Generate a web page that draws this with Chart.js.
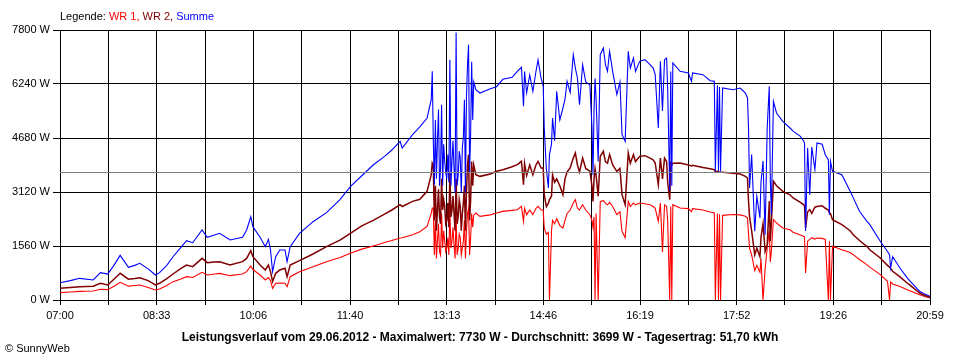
<!DOCTYPE html>
<html>
<head>
<meta charset="utf-8">
<script src="https://cdn.jsdelivr.net/npm/chart.js@4.4.1/dist/chart.umd.min.js"></script>
<style>
  html, body { margin: 0; padding: 0; background: #fff; }
  #wrap { width: 960px; height: 360px; position: relative; }
</style>
</head>
<body>
<div id="wrap"><canvas id="powerChart"></canvas></div>
<script>
// Messzeitpunkte (hh:mm) und Leistung in W
const times = [
  '07:00','07:10','07:19','07:32','07:39','07:46','07:52','07:58','08:06','08:12',
  '08:17','08:25','08:32','08:36','08:43','08:49','08:56','09:02','09:08','09:17',
  '09:22','09:29','09:34','09:44','09:56','10:00','10:04','10:06','10:13','10:18',
  '10:21','10:23','10:25','10:28','10:32','10:37','10:39','10:42','10:51','11:04',
  '11:17','11:30','11:40','11:51','12:02','12:13','12:20','12:28','12:30','12:40',
  '12:47','12:54','12:58','12:59','13:00','13:01','13:02','13:03','13:04','13:05',
  '13:06','13:07','13:08','13:09','13:10','13:11','13:12','13:13','13:14','13:15',
  '13:16','13:17','13:18','13:19','13:20','13:21','13:22','13:23','13:24','13:25',
  '13:26','13:27','13:28','13:29','13:30','13:31','13:32','13:33','13:34','13:35',
  '13:36','13:37','13:38','13:39','13:41','13:45','13:55','14:01','14:07','14:16',
  '14:21','14:25','14:27','14:28','14:30','14:33','14:36','14:39','14:41','14:44',
  '14:46','14:47','14:49','14:51','14:52','14:54','14:55','14:57','14:59','15:02',
  '15:05','15:07','15:09','15:12','15:15','15:17','15:19','15:21','15:24','15:27',
  '15:31','15:33','15:34','15:35','15:36','15:37','15:39','15:41','15:44','15:46',
  '15:48','15:50','15:53','15:57','16:00','16:02','16:05','16:08','16:10','16:13',
  '16:15','16:19','16:24','16:29','16:32','16:34','16:37','16:39','16:41','16:43',
  '16:45','16:46','16:48','16:49','16:50','16:51','16:58','17:06','17:09','17:10',
  '17:20','17:27','17:31','17:32','17:34','17:35','17:36','17:37','17:39','17:49',
  '17:56','18:01','18:03','18:04','18:05','18:07','18:10','18:12','18:15','18:16',
  '18:18','18:20','18:22','18:24','18:25','18:26','18:28','18:31','18:37','18:44',
  '18:47','18:54','18:57','18:58','18:59','19:01','19:03','19:05','19:08','19:10',
  '19:15','19:18','19:21','19:22','19:23','19:25','19:34','19:42','19:45','19:51',
  '19:58','20:01','20:11','20:18','20:20','20:21','20:23','20:30','20:37','20:40',
  '20:49','20:54','20:59'
];

const summe = [
  500,560,626,578,790,750,1000,1290,945,1000,
  1060,900,722,790,1000,1250,1500,1713,1655,2022,
  1811,1880,1926,1733,1811,2022,2407,2118,1811,1540,
  1753,1444,818,1250,1444,1444,1107,1540,1926,2262,
  2523,2900,3273,3590,3900,4150,4333,4584,4391,4776,
  5000,5258,5787,6606,4593,3331,5200,3500,4600,5500,
  3300,3800,5642,3300,4500,4000,3700,3500,4200,3400,
  6943,3300,4000,4600,3800,3100,7730,3300,3600,4300,
  4100,3100,4400,4700,5787,3100,5870,6798,7376,3700,
  4800,6885,5200,6300,6076,5980,6100,6163,6375,6432,
  6606,6722,5600,6600,5980,6500,6029,6600,6933,6400,
  6173,4969,3800,3236,4200,4500,5258,4600,6029,5200,
  5547,5800,6317,6000,7087,6700,6413,5642,6798,6300,
  6220,5000,3620,5500,6400,5800,4000,7087,7280,6800,
  6606,7183,6600,5932,6300,4776,4584,7183,6700,6991,
  6600,6895,6943,6798,6700,6510,4969,6895,5460,6943,
  6991,6125,3150,6600,3300,6847,6606,6558,6317,6558,
  6510,6336,6317,3718,6200,3718,6150,3718,6125,6076,
  6125,5980,5836,4969,3236,4200,1985,3000,2369,3400,
  4015,1887,4969,6173,3500,2465,5739,5402,5161,4969,
  4880,4728,4600,4535,1993,4391,3043,4420,3765,4535,
  4500,4198,4053,2465,4007,3718,3620,3140,2950,2562,
  2280,2176,1696,1400,1309,924,1250,924,640,540,
  251,170,107
];

const wr2 = [
  338,360,385,400,482,433,600,771,600,620,
  645,560,433,482,620,751,900,1011,963,1203,
  1078,1100,1107,1011,1107,1200,1425,1250,1011,867,
  1011,820,530,771,867,915,674,1011,1136,1330,
  1540,1730,1926,2140,2300,2480,2600,2754,2700,2850,
  2908,3140,3620,3958,3900,2300,3300,2000,2600,3200,
  2400,2200,3500,2600,2900,2700,2200,2300,2800,2100,
  3700,2400,2600,3000,2500,2000,3500,2200,2400,2900,
  2700,2000,2500,2800,3300,2000,3100,3900,4200,2300,
  2900,4000,3300,3900,3620,3572,3640,3718,3765,3850,
  3910,4007,3331,3950,3600,3900,3620,3900,4007,3814,
  3814,3043,2700,2800,2900,3000,3620,3400,3500,3300,
  3043,3500,3700,3814,4100,4246,3900,3700,4102,3800,
  3720,3300,2850,3500,3800,3600,3000,4150,4295,4000,
  3950,4200,3900,3718,3800,3043,2754,4246,3950,4200,
  4000,4150,4170,4100,4050,3958,3331,4102,3500,4100,
  4000,3400,2900,3950,3900,3950,3958,3900,3870,3891,
  3830,3790,3765,3700,3720,3700,3700,3690,3689,3660,
  3640,3572,3524,2850,2400,2000,1300,1500,1250,1800,
  2200,1400,1598,2850,1700,2200,3428,3300,3140,3040,
  2947,2820,2754,2720,2080,2550,2609,2500,2680,2700,
  2725,2650,2600,2520,2500,2320,2176,2000,1887,1720,
  1550,1450,1213,1000,950,920,828,670,491,420,
  202,130,78
];

const wr1 = [
  212,230,250,260,308,300,400,510,400,420,
  433,360,289,320,420,530,600,674,650,800,
  722,750,770,703,751,820,982,880,722,578,
  650,560,338,482,490,482,385,674,818,960,
  1107,1230,1348,1470,1560,1660,1720,1791,1800,1887,
  1974,2128,2500,2658,2650,1300,2300,1200,1700,2200,
  1400,1300,2500,1500,2000,1700,1400,1500,1800,1300,
  2600,1500,1700,2100,1600,1200,2400,1300,1500,1900,
  1800,1300,1500,1700,2300,1200,2000,2500,2650,1300,
  1800,2500,2100,2450,2513,2417,2460,2513,2560,2590,
  2609,2706,2272,2650,2465,2600,2465,2650,2706,2600,
  2600,2080,1900,1950,0,2000,2300,2200,2350,2150,
  2080,2300,2500,2600,2800,2899,2650,2600,2750,2600,
  2465,2300,2100,2400,0,2500,0,2850,2870,2800,
  2750,2820,2700,2465,2550,1985,1800,2850,2700,2800,
  2750,2802,2780,2750,2700,2650,2272,2802,1390,2750,
  2700,2300,0,2700,0,2754,2658,2640,2550,2640,
  2600,2540,2513,0,2500,0,2480,0,2446,2470,
  2460,2420,2369,1900,1500,1300,850,1000,800,1200,
  0,900,1502,2000,1100,1400,2320,2230,2080,2030,
  1960,1880,1840,1820,780,1700,1750,1800,1760,1791,
  1780,1750,0,1700,0,1550,1450,1370,1309,1170,
  1021,950,732,540,0,520,462,390,299,260,
  154,100,58
];

const tickLabels = ['07:00','08:33','10:06','11:40','13:13','14:46','16:19','17:52','19:26','20:59'];
const durchschnitt = 3699;
const yMax = 7800;
const yStep = 1560;

const legendParts = [
  { text: 'Legende: ', color: '#000000' },
  { text: 'WR 1, ', color: '#ff0000' },
  { text: 'WR 2, ', color: '#800000' },
  { text: 'Summe', color: '#0000ff' }
];
const bottomTitle = 'Leistungsverlauf vom 29.06.2012 - Maximalwert: 7730 W - Durchschnitt: 3699 W - Tagesertrag: 51,70 kWh';
const copyright = '\u00A9 SunnyWeb';

function toMinutes(t) {
  const p = t.split(':');
  return parseInt(p[0], 10) * 60 + parseInt(p[1], 10);
}

const xMin = toMinutes(tickLabels[0]);
const xMax = toMinutes(tickLabels[tickLabels.length - 1]);
const gridCount = (tickLabels.length - 1) * 2;

function series(values) {
  return values.map((v, i) => ({ x: toMinutes(times[i]), y: v }));
}

const FONT = "'Liberation Sans', Arial, sans-serif";

// Durchschnittslinie (grau, ueber den Kurven) und die Texte
const textPlugin = {
  id: 'sunnyTexts',
  afterDatasetsDraw(chart) {
    const ctx = chart.ctx;
    const area = chart.chartArea;
    const y = Math.round(chart.scales.y.getPixelForValue(durchschnitt)) + 0.5;
    ctx.save();
    ctx.strokeStyle = '#808080';
    ctx.lineWidth = 1;
    ctx.beginPath();
    ctx.moveTo(area.left, y);
    ctx.lineTo(area.right, y);
    ctx.stroke();
    ctx.restore();
  },
  afterDraw(chart) {
    const ctx = chart.ctx;
    ctx.save();
    ctx.textBaseline = 'middle';
    ctx.textAlign = 'left';
    ctx.font = '11px ' + FONT;
    let x = chart.chartArea.left;
    legendParts.forEach(p => {
      ctx.fillStyle = p.color;
      ctx.fillText(p.text, x, 17);
      x += ctx.measureText(p.text).width;
    });

    ctx.fillStyle = '#000';
    ctx.font = 'bold 12px ' + FONT;
    ctx.textAlign = 'center';
    ctx.fillText(bottomTitle, 480, 338);

    ctx.font = '11px ' + FONT;
    ctx.textAlign = 'left';
    ctx.fillText(copyright, 5, 349);
    ctx.restore();
  }
};

new Chart(document.getElementById('powerChart'), {
  type: 'line',
  data: {
    datasets: [
      {
        label: 'Summe',
        data: series(summe),
        borderColor: '#0000ff',
        borderWidth: 1.1,
        order: 1
      },
      {
        label: 'WR 2',
        data: series(wr2),
        borderColor: '#800000',
        borderWidth: 1.5,
        order: 2
      },
      {
        label: 'WR 1',
        data: series(wr1),
        borderColor: '#ff0000',
        borderWidth: 1.1,
        order: 3
      }
    ]
  },
  options: {
    responsive: true,
    maintainAspectRatio: false,
    animation: false,
    events: [],
    layout: { padding: { left: 0, right: 30, top: 30, bottom: 0 } },
    elements: {
      point: { radius: 0 },
      line: { tension: 0, fill: false }
    },
    scales: {
      x: {
        type: 'linear',
        min: xMin,
        max: xMax,
        afterBuildTicks(scale) {
          const ticks = [];
          for (let i = 0; i <= gridCount; i++) {
            ticks.push({ value: xMin + i * (xMax - xMin) / gridCount });
          }
          scale.ticks = ticks;
        },
        afterFit(scale) { scale.height = 60; },
        grid: { color: '#000', lineWidth: 1, tickLength: 5, drawTicks: true },
        border: { color: '#000', width: 1 },
        ticks: {
          autoSkip: false,
          maxRotation: 0,
          padding: 4,
          color: '#000',
          font: { family: FONT, size: 11 },
          callback(value, index) {
            return index % 2 === 0 ? tickLabels[index / 2] : '';
          }
        }
      },
      y: {
        min: 0,
        max: yMax,
        afterFit(scale) { scale.width = 60; },
        grid: { color: '#000', lineWidth: 1, tickLength: 7 },
        border: { color: '#000', width: 1 },
        ticks: {
          stepSize: yStep,
          padding: 3,
          color: '#000',
          font: { family: FONT, size: 11 },
          callback(value) { return value + ' W'; }
        }
      }
    },
    plugins: {
      legend: { display: false },
      tooltip: { enabled: false }
    }
  },
  plugins: [textPlugin]
});
</script>
</body>
</html>
